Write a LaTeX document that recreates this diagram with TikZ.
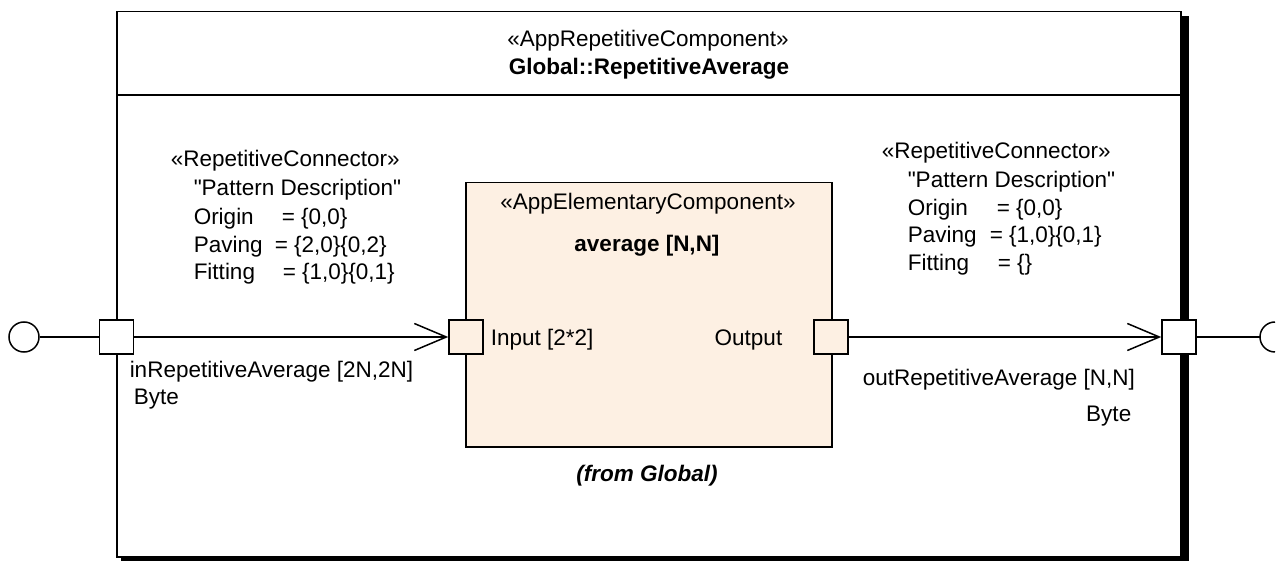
\documentclass[tikz,border=0pt]{standalone}
\usepackage{fontspec}
\setmainfont{Liberation Sans}
\newfontfamily\qfont{Liberation Sans}
\usetikzlibrary{arrows.meta}
\definecolor{peach}{RGB}{253,240,227}
\newcommand{\dq}{{\qfont"}}
\begin{document}
\begin{tikzpicture}[x=1pt,y=-1pt,
  font=\fontsize{22.5}{28}\selectfont, line width=1.5pt,
  txt/.style={inner sep=0pt, anchor=base west},
  rtxt/.style={inner sep=0pt, anchor=base east},
  ctxt/.style={inner sep=0pt, anchor=base},
  port/.style={draw, fill=white, minimum size=34pt, inner sep=0pt},
  iport/.style={port, fill=peach},
  flow/.style={-{Straight Barb[length=32pt,width=27pt]}}]
\useasboundingbox (0,0) rectangle (1278,561);
% outer component with shadow
\fill[black] (121,16) rectangle (1189,561);
\node[draw, fill=white, anchor=north west, inner sep=0pt,
      minimum width=1064pt, minimum height=545pt] (outer) at (116,11) {};
\coordinate (hy) at (0,95);
\draw (outer.west |- hy) -- (outer.east |- hy);
\node[ctxt] (st1) at (648,47) {«AppRepetitiveComponent»};
\node[ctxt, font=\fontsize{22.5}{28}\selectfont\bfseries] (nm1) at (649,75) {Global::RepetitiveAverage};
% inner component
\node[draw, fill=peach, anchor=north west, inner sep=0pt,
      minimum width=366pt, minimum height=264pt] (avg) at (465,182) {};
\node[ctxt] (st2) at (648,210) {«AppElementaryComponent»};
\node[ctxt, font=\fontsize{22.5}{28}\selectfont\bfseries] (nm2) at (647,252) {average [N,N]};
\node[ctxt, font=\fontsize{22.5}{28}\selectfont\bfseries\itshape] (from) at (647,481) {(from Global)};
% ports
\node[port] (pin) at (116.5,337) {};
\node[iport] (pinput) at (466,337) {};
\node[iport] (poutput) at (831,337) {};
\node[port] (pout) at (1179,337) {};
\node[draw, circle, fill=white, minimum size=30pt, inner sep=0pt] (lolli) at (24,337) {};
\coordinate (sock) at (1260,337);
% connectors
\draw (lolli) -- (pin);
\draw (pout) -- (sock);
\draw ([shift={(15pt,15pt)}]sock) arc[start angle=90, end angle=270, radius=15pt];
\draw[flow] (pin) -- (pinput);
\draw[flow] (poutput) -- (pout);
% port labels
\node[txt] (linput) at (490,346) {Input [2*2]};
\node[rtxt] (loutput) at (783,346) {Output};
\node[txt] (lin) at (129,378) {inRepetitiveAverage [2N,2N]};
\node[txt] (lintype) at (133,405) {Byte};
\node[txt] (lout) at (862,386) {outRepetitiveAverage [N,N]};
\node[rtxt] (louttype) at (1132,421) {Byte};
% left connector note
\node[txt] (lst) at (170,167) {«RepetitiveConnector»};
\node[txt] (lpd) at (193,196) {\dq Pattern Description\dq};
\node[txt] (lok) at (193,225) {Origin};
\node[txt] (lov) at (281,225) {= \{0,0\}};
\node[txt] (lpk) at (193,253) {Paving};
\node[txt] (lpv) at (274,253) {= \{2,0\}\{0,2\}};
\node[txt] (lfk) at (193,280) {Fitting};
\node[txt] (lfv) at (282,280) {= \{1,0\}\{0,1\}};
% right connector note
\node[txt] (rst) at (881,159) {«RepetitiveConnector»};
\node[txt] (rpd) at (907,188) {\dq Pattern Description\dq};
\node[txt] (rok) at (907,216) {Origin};
\node[txt] (rov) at (996,216) {= \{0,0\}};
\node[txt] (rpk) at (907,243) {Paving};
\node[txt] (rpv) at (989,243) {= \{1,0\}\{0,1\}};
\node[txt] (rfk) at (907,271) {Fitting};
\node[txt] (rfv) at (997,271) {= \{\}};
\end{tikzpicture}
\end{document}
